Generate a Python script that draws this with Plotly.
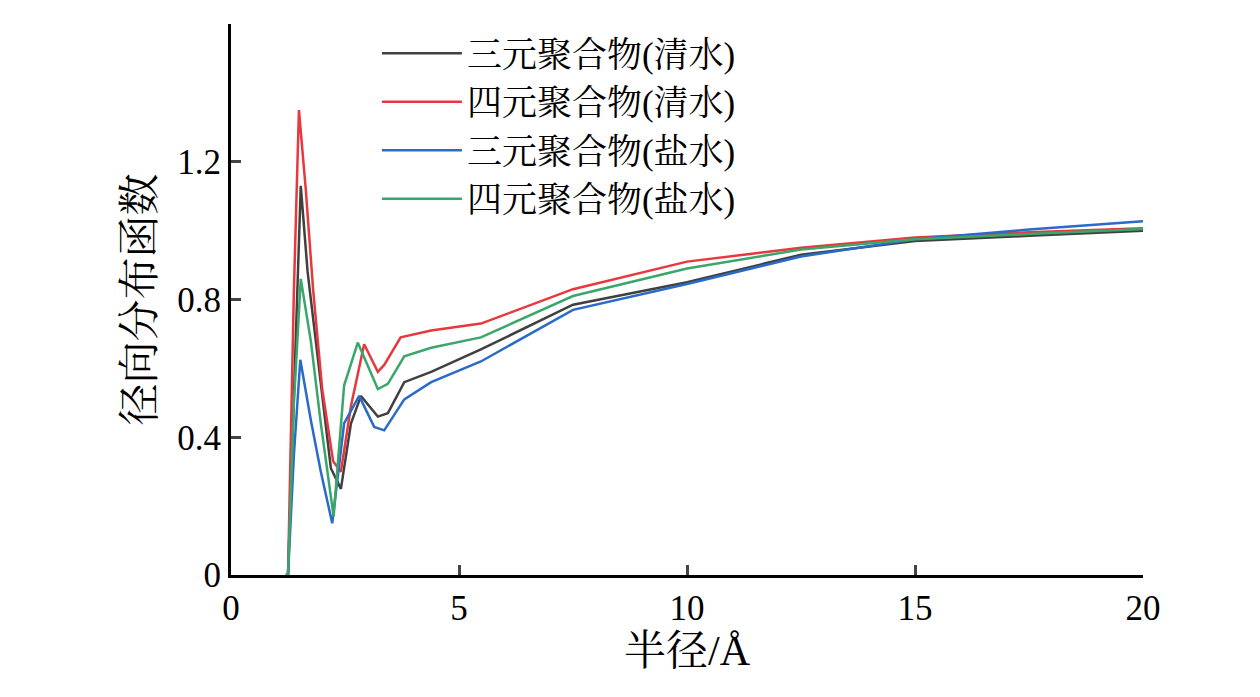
import plotly.graph_objects as go

# radius (Å) and g(r) per series
x_bq = [1.2, 1.25, 1.35, 1.53, 1.68, 1.9, 2.19, 2.41, 2.63, 2.85, 3.22, 3.44, 3.8, 4.39, 5.48, 7.5, 10, 12.5, 15, 17.5, 20]
y_bq = [0, 0, 0.4, 1.13, 0.88, 0.63, 0.31, 0.25, 0.44, 0.52, 0.46, 0.47, 0.56, 0.59, 0.655, 0.785, 0.85, 0.93, 0.97, 0.985, 1.0]

x_rq = [1.2, 1.25, 1.38, 1.49, 1.64, 1.8, 2.0, 2.24, 2.41, 2.63, 2.92, 3.22, 3.36, 3.72, 4.39, 5.48, 7.5, 10, 12.5, 15, 17.5, 20]
y_rq = [0, 0, 0.83, 1.35, 1.12, 0.83, 0.54, 0.33, 0.30, 0.49, 0.67, 0.59, 0.61, 0.69, 0.71, 0.73, 0.83, 0.91, 0.95, 0.98, 0.995, 1.007]

x_bs = [1.2, 1.25, 1.38, 1.52, 1.75, 1.97, 2.22, 2.48, 2.81, 3.14, 3.36, 3.8, 4.39, 5.48, 7.5, 10, 12.5, 15, 17.5, 20]
y_bs = [0, 0, 0.35, 0.625, 0.45, 0.30, 0.15, 0.44, 0.52, 0.43, 0.42, 0.51, 0.56, 0.62, 0.77, 0.845, 0.925, 0.975, 1.003, 1.027]

x_gs = [1.2, 1.25, 1.38, 1.53, 1.75, 1.97, 2.25, 2.48, 2.78, 3.22, 3.44, 3.8, 4.39, 5.48, 7.5, 10, 12.5, 15, 17.5, 20]
y_gs = [0, 0, 0.5, 0.86, 0.68, 0.44, 0.17, 0.55, 0.675, 0.54, 0.555, 0.635, 0.66, 0.69, 0.81, 0.89, 0.945, 0.975, 0.99, 1.005]

names = ["三元聚合物(清水)", "四元聚合物(清水)", "三元聚合物(盐水)", "四元聚合物(盐水)"]
colors = ["#404040", "#e8383d", "#2a6ac8", "#3aa66a"]

fig = go.Figure()
for xs, ys, name, c in zip([x_bq, x_rq, x_bs, x_gs], [y_bq, y_rq, y_bs, y_gs], names, colors):
    fig.add_trace(go.Scatter(x=xs, y=ys, mode="lines", name=name,
                             line=dict(color=c, width=2.5)))

font = "Liberation Serif, Noto Serif CJK SC, Noto Sans CJK SC"
fig.update_layout(
    width=1260, height=697,
    plot_bgcolor="white", paper_bgcolor="white",
    margin=dict(l=223, r=125, t=16, b=130),
    font=dict(family=font, size=35, color="black"),
    legend=dict(x=0.16, y=1.0, xanchor="left", yanchor="top", itemwidth=80,
                font=dict(size=35), bgcolor="rgba(0,0,0,0)", tracegroupgap=0),
    xaxis=dict(range=[0, 20], tickvals=[0, 5, 10, 15, 20], ticks="inside",
               ticklen=10, tickwidth=3, showline=True, linewidth=3, linecolor="black",
               showgrid=False, zeroline=False, title=dict(text="半径/Å", standoff=8)),
    yaxis=dict(range=[0, 1.6], tickvals=[0, 0.4, 0.8, 1.2, 1.6],
               ticktext=["0", "0.4", "0.8", "1.2", "1.4"], ticks="inside",
               ticklen=10, tickwidth=3, showline=True, linewidth=3, linecolor="black",
               showgrid=False, zeroline=False, title=dict(text="径向分布函数", standoff=10)),
)

fig.write_html("out.html")
